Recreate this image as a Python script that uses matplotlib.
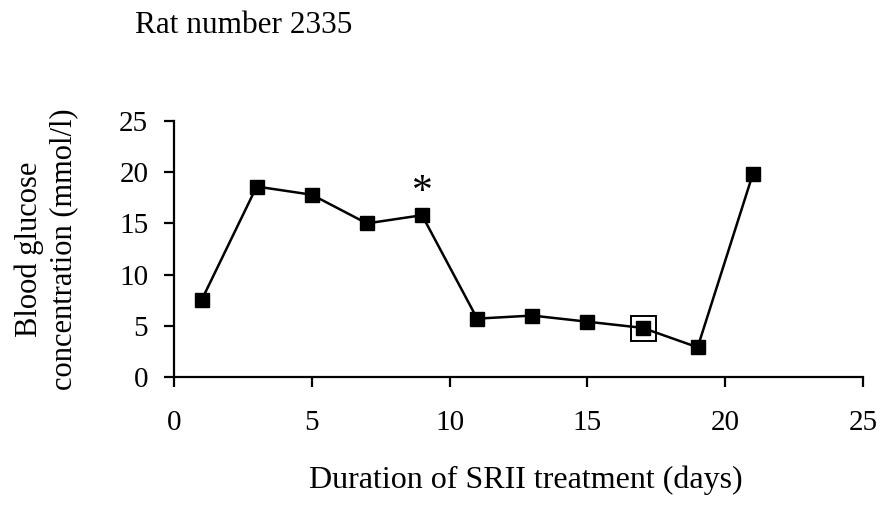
import matplotlib
matplotlib.use("Agg")
import matplotlib.pyplot as plt

# glucose readings, rat 2335
days = [1, 3, 5, 7, 9, 11, 13, 15, 17, 19, 21]
glucose = [7.5, 18.6, 17.8, 15.0, 15.8, 5.7, 6.0, 5.4, 4.8, 2.9, 19.8]
marked_day = 17
marked_glucose = 4.8
star_day = 9
star_y = 18.0

plt.rcParams['font.family'] = ['Liberation Serif', 'DejaVu Serif']

fig = plt.figure(figsize=(8.81, 5.05), dpi=100)
ax = fig.add_axes([174/881, 1-377/505, (863-174)/881, (377-121)/505])

ax.plot(days, glucose, color='black', lw=1.8, marker='s', ms=10,
        mfc='black', mec='black', clip_on=False)
ax.plot([marked_day], [marked_glucose], ls='none', marker='s', ms=18,
        mfc='none', mec='black', mew=1.4, clip_on=False)
ax.text(star_day, star_y, '*', ha='center', va='center', fontsize=30)

ax.set_xlim(0, 25)
ax.set_ylim(0, 25)
ax.set_xticks([0, 5, 10, 15, 20, 25])
ax.set_yticks([0, 5, 10, 15, 20, 25])
ax.spines['top'].set_visible(False)
ax.spines['right'].set_visible(False)
for s in ('left', 'bottom'):
    ax.spines[s].set_linewidth(1.6)
ax.tick_params(direction='out', length=7.5, width=1.6, labelsize=21)
ax.tick_params(axis='y', pad=11)
ax.tick_params(axis='x', pad=16)

ax.set_xlabel('Duration of SRII treatment (days)', fontsize=23)
ax.xaxis.set_label_coords(0.51, -0.345)
ax.set_ylabel('Blood glucose\nconcentration (mmol/l)', fontsize=22, linespacing=1.25)
ax.yaxis.set_label_coords(-0.139, 0.5)

fig.text(135/881, 1-33/505, 'Rat number 2335', fontsize=22.5, ha='left', va='baseline')

fig.savefig('out.png', dpi=100)
